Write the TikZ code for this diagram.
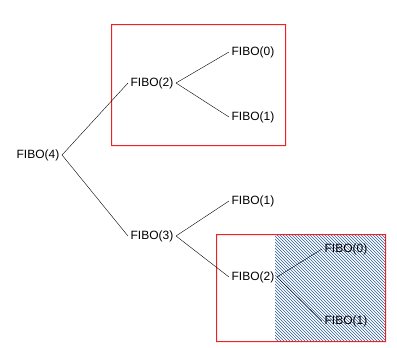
\documentclass[tikz,border=0pt]{standalone}
\usepackage{fontspec}
\setmainfont{Liberation Sans}
\usetikzlibrary{patterns}
\definecolor{fRed}{HTML}{EE2222}
\definecolor{fBlue}{HTML}{2A5C9A}

\begin{document}
\begin{tikzpicture}[x=1pt, y=-1pt,
  call/.style={inner sep=2.5pt, font=\fontsize{12}{14}\selectfont},
  frame/.style={fill=fRed, even odd rule},
]
  \useasboundingbox (0,0) rectangle (397,348);
  % shaded part of the repeated subtree
  \fill[pattern=north west lines, pattern color=fBlue] (275,234) rectangle (385,341);
  \fill[frame] (111,24) rectangle (286,146) (112,25) rectangle (285,145);
  \fill[frame] (216,234) rectangle (386,342) (217,235) rectangle (385,341);

  \node[call] (f4) at (38,155) {FIBO(4)};
  \node[call] (f2a) at (152,83) {FIBO(2)};
  \node[call] (f0a) at (253,52) {FIBO(0)};
  \node[call] (f1a) at (253,117) {FIBO(1)};
  \node[call] (f3) at (152,236) {FIBO(3)};
  \node[call] (f1b) at (253,201) {FIBO(1)};
  \node[call] (f2b) at (253,277) {FIBO(2)};
  \node[call] (f0b) at (346,249) {FIBO(0)};
  \node[call] (f1c) at (346,321) {FIBO(1)};

  \draw (f4.east) -- (f2a.west);
  \draw (f4.east) -- (f3.west);
  \draw (f2a.east) -- (f0a.west);
  \draw (f2a.east) -- (f1a.west);
  \draw (f3.east) -- (f1b.west);
  \draw (f3.east) -- (f2b.west);
  \draw (f2b.east) -- (f0b.west);
  \draw (f2b.east) -- (f1c.west);
\end{tikzpicture}
\end{document}
